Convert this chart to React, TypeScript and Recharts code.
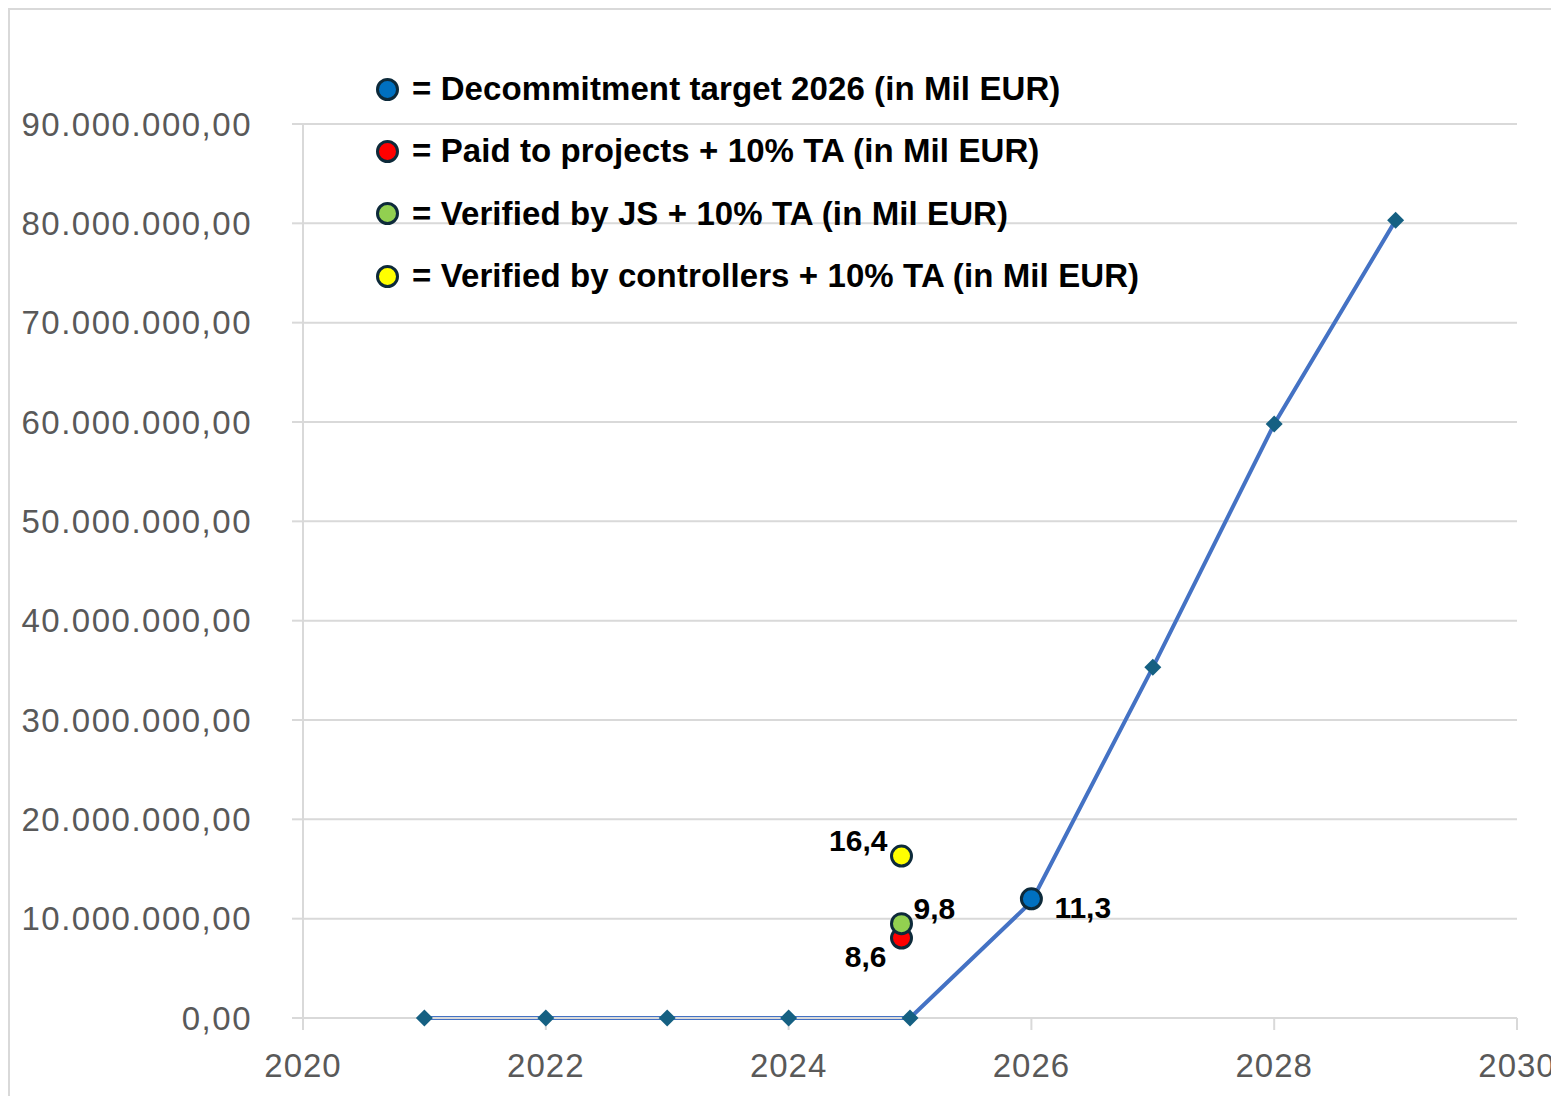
import React from 'react';
import {
  ComposedChart, Line, Scatter, XAxis, YAxis, CartesianGrid,
} from 'recharts';

const years = [2021, 2022, 2023, 2024, 2025, 2026, 2027, 2028, 2029];
const targetValues = [0, 0, 0, 0, 0, 11700000, 35300000, 59800000, 80300000];

const xTicks = [2020, 2022, 2024, 2026, 2028, 2030];
const yTicks = [0, 10000000, 20000000, 30000000, 40000000, 50000000, 60000000, 70000000, 80000000, 90000000];

const decommitPoint = [{ x: 2026, y: 12000000, label: '11,3' }];
const paidPoint = [{ x: 2024.93, y: 8050000, label: '8,6' }];
const verifiedJsPoint = [{ x: 2024.93, y: 9500000, label: '9,8' }];
const controllersPoint = [{ x: 2024.93, y: 16300000, label: '16,4' }];

const legendItems = [
  { color: '#0070c0', text: '= Decommitment target 2026 (in Mil EUR)' },
  { color: '#ff0000', text: '= Paid to projects + 10% TA (in Mil EUR)' },
  { color: '#92d050', text: '= Verified by JS + 10% TA (in Mil EUR)' },
  { color: '#ffff00', text: '= Verified by controllers + 10% TA (in Mil EUR)' },
];

const lineData = years.map((x, i) => ({ x, y: targetValues[i] }));

const FONT = "'Liberation Sans', Arial, sans-serif";

const fmt = (v: number) =>
  Math.round(v).toString().replace(/\B(?=(\d{3})+(?!\d))/g, '.') + ',00';

const Diamond = (p: any) => {
  const { cx, cy } = p;
  if (cx == null || cy == null) return null;
  const r = 8.5;
  return (
    <polygon
      key={`d-${cx}`}
      points={`${cx},${cy - r} ${cx + r},${cy} ${cx},${cy + r} ${cx - r},${cy}`}
      fill="#156082"
    />
  );
};

const bubble = (fill: string, dx: number, dy: number, anchor: 'start' | 'end') => (p: any) => {
  const { cx, cy, payload } = p;
  return (
    <g>
      <circle cx={cx} cy={cy} r={10} fill={fill} stroke="#0d2a3a" strokeWidth={3} />
      <text
        x={cx + dx}
        y={cy + dy}
        textAnchor={anchor}
        dominantBaseline="central"
        fontFamily={FONT}
        fontWeight="bold"
        fontSize={30}
        fill="#000"
      >
        {payload.label}
      </text>
    </g>
  );
};

const yTickStyle = { fill: '#595959', fontSize: 33, fontFamily: FONT, letterSpacing: 1.5 };
const xTickStyle = { fill: '#595959', fontSize: 33, fontFamily: FONT, letterSpacing: 1 };

export default function App() {
  return (
    <div
      style={{
        position: 'relative', width: 1551, height: 1088, background: '#fff',
        borderLeft: '2px solid #d9d9d9', borderTop: '2px solid #d9d9d9', boxSizing: 'border-box',
      }}
    >
      <style>{'html,body{overflow:hidden}'}</style>
      <ComposedChart
        width={1549}
        height={1086}
        margin={{ top: 114, right: 42, left: 10, bottom: 26 }}
      >
        <CartesianGrid vertical={false} stroke="#d9d9d9" strokeWidth={2} />
        <XAxis
          dataKey="x"
          type="number"
          domain={[2020, 2030]}
          ticks={xTicks}
          allowDuplicatedCategory={false}
          stroke="#d9d9d9"
          strokeWidth={2}
          tickSize={12}
          tickMargin={24}
          height={52}
          tick={xTickStyle}
        />
        <YAxis
          type="number"
          domain={[0, 90000000]}
          ticks={yTicks}
          width={283}
          stroke="#d9d9d9"
          strokeWidth={2}
          tickSize={11}
          tickMargin={40}
          tickFormatter={fmt}
          tick={yTickStyle}
        />
        <Line
          data={lineData}
          dataKey="y"
          stroke="#4472c4"
          strokeWidth={4}
          dot={Diamond}
          activeDot={false}
          isAnimationActive={false}
        />
        <Scatter data={controllersPoint} dataKey="y" shape={bubble('#ffff00', -14, -16, 'end')} isAnimationActive={false} />
        <Scatter data={paidPoint} dataKey="y" shape={bubble('#ff0000', -15, 18, 'end')} isAnimationActive={false} />
        <Scatter data={verifiedJsPoint} dataKey="y" shape={bubble('#92d050', 12, -15, 'start')} isAnimationActive={false} />
        <Scatter data={decommitPoint} dataKey="y" shape={bubble('#0070c0', 23, 9, 'start')} isAnimationActive={false} />
      </ComposedChart>
      <div style={{ position: 'absolute', left: 366, top: 48, fontFamily: FONT }}>
        {legendItems.map((it, i) => (
          <div key={i} style={{ display: 'flex', alignItems: 'center', height: 62.3 }}>
            <span
              style={{
                width: 17, height: 17, borderRadius: '50%', background: it.color,
                border: '3px solid #0d2a3a', marginRight: 13,
              }}
            />
            <span style={{ fontSize: 33, fontWeight: 'bold', color: '#000', whiteSpace: 'nowrap', letterSpacing: 0.1 }}>{it.text}</span>
          </div>
        ))}
      </div>
    </div>
  );
}
